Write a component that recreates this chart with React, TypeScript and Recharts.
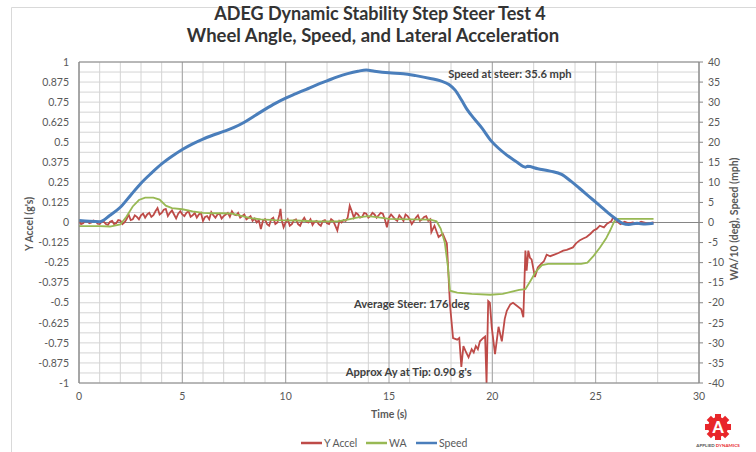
import React from 'react';
import { ComposedChart, Line, XAxis, YAxis, CartesianGrid, ReferenceLine, ReferenceDot } from 'recharts';

const FONT = 'Lato, "Open Sans", sans-serif';
const TEXT = '#595959';

const timeTicks = [0, 5, 10, 15, 20, 25, 30];
const accelTicks = [1, 0.875, 0.75, 0.625, 0.5, 0.375, 0.25, 0.125, 0, -0.125, -0.25, -0.375, -0.5, -0.625, -0.75, -0.875, -1];
const speedTicks = [40, 35, 30, 25, 20, 15, 10, 5, 0, -5, -10, -15, -20, -25, -30, -35, -40];

// [time s, lateral accel g]
const yAccel: [number, number][] = [
  [0, 0.005], [0.1, -0.01], [0.2, -0.005], [0.3, 0.01], [0.4, 0.01], [0.5, -0.005], [0.6, 0], [0.7, 0.012],
  [0.8, 0.008], [0.9, -0.008], [1, -0.01], [1.1, 0.005], [1.2, 0.005], [1.3, -0.01], [1.4, -0.015], [1.5, 0.005],
  [1.6, 0.01], [1.7, -0.01], [1.8, -0.005], [1.9, 0.015], [2, 0.012], [2.1, -0.01], [2.2, 0], [2.3, 0.02],
  [2.4, 0.05], [2.5, 0.015], [2.6, 0.02], [2.7, 0.045], [2.8, 0.035], [2.9, 0.02], [3, 0.045], [3.1, 0.055],
  [3.2, 0.03], [3.3, 0.05], [3.4, 0.06], [3.5, 0.035], [3.6, 0.045], [3.7, 0.07], [3.8, 0.09], [3.9, 0.05],
  [4, 0.06], [4.1, 0.08], [4.2, 0.085], [4.3, 0.04], [4.4, 0.06], [4.5, 0.075], [4.6, 0.05], [4.7, 0.025],
  [4.8, 0.055], [4.9, 0.07], [5, 0.05], [5.1, 0.04], [5.2, 0.06], [5.3, 0.07], [5.4, 0.035], [5.5, 0.045],
  [5.6, 0.06], [5.7, 0.03], [5.8, 0.05], [5.9, 0.06], [6, 0.01], [6.1, 0.035], [6.2, 0.04], [6.3, 0.02],
  [6.4, 0.065], [6.5, 0.045], [6.6, 0.03], [6.7, 0.05], [6.8, 0.055], [6.9, 0.025], [7, 0.04], [7.1, 0.05],
  [7.2, 0.06], [7.3, 0.035], [7.4, 0.07], [7.5, 0.05], [7.6, 0.045], [7.7, 0.06], [7.8, 0.03], [7.9, 0.04],
  [8, 0.05], [8.1, 0.02], [8.2, 0.03], [8.3, 0.04], [8.4, 0.01], [8.5, 0.025], [8.6, 0], [8.7, 0.015],
  [8.8, -0.04], [8.9, 0.01], [9, 0.02], [9.1, -0.01], [9.2, -0.02], [9.3, 0.02], [9.4, 0.03], [9.5, -0.01],
  [9.6, 0], [9.7, 0.05], [9.75, 0.085], [9.8, 0.02], [9.9, -0.03], [10, 0], [10.1, 0.02], [10.2, -0.02],
  [10.3, -0.01], [10.4, 0.015], [10.5, 0.02], [10.6, -0.01], [10.7, -0.02], [10.8, 0.01], [10.9, 0.03], [11, 0.005],
  [11.1, 0], [11.2, 0.02], [11.3, -0.015], [11.4, 0.005], [11.5, 0.01], [11.6, -0.01], [11.7, -0.02], [11.8, 0.01],
  [11.9, 0.015], [12, -0.005], [12.1, -0.01], [12.2, 0.02], [12.3, 0.01], [12.4, -0.02], [12.5, -0.05], [12.6, 0.01],
  [12.7, 0], [12.8, 0.015], [12.9, 0.01], [13, 0.03], [13.1, 0.105], [13.2, 0.07], [13.3, 0.03], [13.4, 0.06],
  [13.5, 0.05], [13.6, 0.03], [13.7, 0.035], [13.8, 0.06], [13.9, 0.055], [14, 0.03], [14.1, 0.04], [14.2, 0.06],
  [14.3, 0.05], [14.4, 0.03], [14.5, 0.045], [14.6, 0.06], [14.7, 0.055], [14.8, 0.02], [14.9, -0.03], [15, 0.03],
  [15.1, 0.05], [15.2, 0.035], [15.3, 0.02], [15.4, 0.01], [15.5, 0.045], [15.6, 0.03], [15.7, 0.01], [15.8, 0.05],
  [15.9, 0.04], [16, 0.02], [16.1, -0.01], [16.2, 0.01], [16.3, 0.03], [16.4, 0.045], [16.5, 0.01], [16.6, 0.02],
  [16.7, 0.035], [16.8, 0.04], [16.9, 0.01], [17, 0.02], [17.05, -0.06], [17.2, -0.02], [17.4, -0.09], [17.6, -0.07],
  [17.8, -0.13], [17.95, -0.51], [18.1, -0.72], [18.3, -0.73], [18.4, -0.72], [18.5, -0.9], [18.6, -0.77], [18.7, -0.8],
  [18.85, -0.84], [19, -0.79], [19.1, -0.81], [19.2, -0.77], [19.3, -0.79], [19.4, -0.74], [19.55, -0.72], [19.65, -0.71],
  [19.72, -1], [19.8, -0.49], [19.88, -0.5], [19.97, -0.65], [20.13, -0.82], [20.3, -0.65], [20.46, -0.74], [20.6, -0.6],
  [20.7, -0.55], [20.87, -0.51], [21, -0.5], [21.2, -0.52], [21.4, -0.54], [21.5, -0.59], [21.6, -0.175], [21.66, -0.3],
  [21.74, -0.175], [21.82, -0.22], [21.9, -0.23], [22.06, -0.34], [22.2, -0.28], [22.35, -0.26], [22.5, -0.24], [22.63, -0.2],
  [22.8, -0.21], [23, -0.2], [23.2, -0.19], [23.43, -0.175], [23.6, -0.17], [23.9, -0.155], [24.05, -0.13], [24.24, -0.11],
  [24.4, -0.1], [24.56, -0.09], [24.75, -0.07], [24.9, -0.05], [25.05, -0.04], [25.2, -0.02], [25.4, -0.03], [25.53, -0.01],
  [25.65, 0], [25.77, 0.01], [25.85, 0.033], [26, 0.01], [26.2, -0.01], [26.4, 0.005], [26.6, -0.005], [26.8, 0],
  [27, -0.01], [27.2, 0.005], [27.5, -0.005], [27.8, 0],
];

// [time s, wheel angle / 10 deg]
const wheelAngle: [number, number][] = [
  [0, -0.9], [1, -0.9], [1.5, -1], [2, -0.5], [2.3, 1.5], [2.6, 4], [2.9, 5.6], [3.2, 6.2], [3.6, 6.2],
  [3.9, 5.7], [4.2, 4.2], [4.5, 3.6], [5, 3.3], [5.5, 2.8], [6, 2.4], [6.5, 2.3], [7, 2.3], [7.4, 2.2],
  [7.8, 1.7], [8.3, 1.1], [8.8, 0.8], [9.5, 0.6], [10.5, 0.5], [11.5, 0.3], [12.5, 0.3], [13, 0.7], [13.5, 1.3],
  [14, 1.6], [14.5, 1.3], [15, 0.9], [16, 0.8], [17, 0.7], [17.3, 0.3], [17.5, -1.5], [17.7, -5], [17.85, -11],
  [17.95, -17], [18.3, -17.5], [19, -17.8], [19.9, -18], [20.5, -17.8], [20.9, -17.3], [21.3, -16.8], [21.6, -16.6],
  [21.85, -14.5], [22.1, -12.3], [22.4, -10.6], [22.7, -10.3], [23.5, -10.3], [24.3, -10.3], [24.6, -10], [24.9, -8.3],
  [25.2, -6.3], [25.5, -4], [25.7, -2], [25.9, 0.3], [26.1, 0.9], [27.8, 0.9],
];

// [time s, speed mph]
const speed: [number, number][] = [
  [0, 0.5], [0.5, 0.3], [1, 0.2], [1.5, 1.8], [2, 3.8], [2.5, 6.8], [3, 9.8], [3.5, 12.3], [4, 14.6], [4.5, 16.5],
  [5, 18.2], [5.5, 19.6], [6, 20.8], [6.5, 21.8], [7, 22.7], [7.5, 23.7], [8, 25], [8.5, 26.6], [9, 28.2], [9.5, 29.7],
  [10, 31], [10.5, 32.1], [11, 33.2], [11.5, 34.3], [12, 35.3], [12.5, 36.3], [13, 37.1], [13.5, 37.7], [13.9, 38],
  [14.3, 37.7], [15, 37.3], [15.7, 37.1], [16.3, 36.6], [17, 35.9], [17.5, 35.3], [17.9, 34.4], [18.2, 33], [18.5, 30.6],
  [18.8, 28], [19.1, 26], [19.5, 23.5], [19.9, 20.6], [20.3, 18.5], [20.7, 16.8], [21.2, 15], [21.6, 13.8], [21.7, 14],
  [22.2, 13.4], [22.8, 12.8], [23.35, 12], [23.8, 10.3], [24.2, 8.6], [24.7, 6.4], [25.2, 4.2], [25.6, 2.4], [26, 0.8],
  [26.3, -0.2], [26.6, -0.5], [27, -0.2], [27.4, -0.4], [27.8, -0.2],
];

const toRows = (pts: [number, number][]) => pts.map(([t, v]) => ({ t, v }));

// gridline positions
const minorTime = Array.from({ length: 31 }, (_, i) => i);
const majorTime = timeTicks;
const gridAccel = Array.from({ length: 33 }, (_, i) => -1 + i * 0.0625);

const legendItems = [
  { label: 'Y Accel', color: '#BE4B48', x: 301 },
  { label: 'WA', color: '#98B954', x: 366 },
  { label: 'Speed', color: '#4A7EBB', x: 416 },
];

function Overlay() {
  const teeth = [0, 45, 90, 135, 180, 225, 270, 315];
  return (
    <svg width={756} height={452} style={{ position: 'absolute', left: 0, top: 0, pointerEvents: 'none' }}>
      <line x1={11.5} y1={7.5} x2={756} y2={7.5} stroke="#d9d9d9" />
      <line x1={11.5} y1={7.5} x2={11.5} y2={452} stroke="#d9d9d9" />
      <text x={380} y={20} textAnchor="middle" fontFamily={FONT} fontWeight={700} fontSize={18} fill="#333">
        ADEG Dynamic Stability Step Steer Test 4
      </text>
      <text x={373} y={42} textAnchor="middle" fontFamily={FONT} fontWeight={700} fontSize={18.5} fill="#333">
        Wheel Angle, Speed, and Lateral Acceleration
      </text>
      <text transform="translate(33,224) rotate(-90)" textAnchor="middle" fontFamily={FONT} fontWeight={700} fontSize={10.5} fill={TEXT}>
        Y Accel (g's)
      </text>
      <text transform="translate(738,219) rotate(-90)" textAnchor="middle" fontFamily={FONT} fontWeight={700} fontSize={10.5} fill={TEXT}>
        WA/10 (deg), Speed (mph)
      </text>
      <text x={389} y={418} textAnchor="middle" fontFamily={FONT} fontWeight={700} fontSize={10.5} fill={TEXT}>
        Time (s)
      </text>
      {legendItems.map((it) => (
        <g key={it.label}>
          <line x1={it.x} y1={443} x2={it.x + 21} y2={443} stroke={it.color} strokeWidth={2.5} />
          <text x={it.x + 23} y={447} fontFamily={FONT} fontSize={10.5} fill={TEXT}>
            {it.label}
          </text>
        </g>
      ))}
      <g transform="translate(718,427)">
        {teeth.map((a) => (
          <rect key={a} x={-3} y={-13} width={6} height={6} fill="#E8262A" transform={`rotate(${a})`} />
        ))}
        <circle r={10} fill="#E8262A" />
        <text y={6} textAnchor="middle" fontFamily={FONT} fontWeight={900} fontSize={16} fill="#fff">A</text>
      </g>
      <text x={718} y={447} textAnchor="middle" fontFamily={FONT} fontWeight={700} fontSize={4.5} fill="#555">
        APPLIED <tspan fill="#E8262A">DYNAMICS</tspan>
      </text>
    </svg>
  );
}

const tickStyle = { fontFamily: FONT, fontSize: 10.5, fill: TEXT };
const noteLabel = (value: string) => ({
  value,
  position: 'center' as const,
  fontFamily: FONT,
  fontWeight: 700,
  fontSize: 11.2,
  fill: '#404040',
});

export default function App() {
  return (
    <div style={{ position: 'absolute', left: 0, top: 0, width: 756, height: 452, background: '#fff' }}>
      <ComposedChart width={756} height={452} margin={{ top: 62, right: 0, bottom: 39, left: 0 }}>
        <CartesianGrid yAxisId="left" horizontalValues={gridAccel} verticalValues={minorTime} stroke="#d4d4d4" strokeWidth={1} />
        <CartesianGrid yAxisId="left" horizontal={false} verticalValues={majorTime} stroke="#a6a6a6" strokeWidth={1} />
        <XAxis
          dataKey="t"
          type="number"
          domain={[0, 30]}
          ticks={timeTicks}
          allowDataOverflow
          height={30}
          tick={tickStyle}
          tickLine={false}
          tickSize={4}
          tickMargin={6}
          axisLine={{ stroke: '#868686' }}
        />
        <YAxis
          yAxisId="left"
          orientation="left"
          type="number"
          domain={[-1, 1]}
          ticks={accelTicks}
          allowDataOverflow
          width={79}
          tick={tickStyle}
          tickLine={false}
          tickSize={6}
          tickMargin={4}
          axisLine={{ stroke: '#868686' }}
          interval={0}
        />
        <YAxis
          yAxisId="right"
          orientation="right"
          type="number"
          domain={[-40, 40]}
          ticks={speedTicks}
          allowDataOverflow
          width={57}
          tick={tickStyle}
          tickLine={{ stroke: '#868686' }}
          tickSize={4}
          tickMargin={5}
          axisLine={{ stroke: '#868686' }}
          interval={0}
        />
        <ReferenceLine yAxisId="left" y={0} stroke="#868686" />
        <ReferenceLine yAxisId="left" y={1} stroke="#868686" />
        <Line data={toRows(yAccel)} dataKey="v" yAxisId="left" type="linear" stroke="#BE4B48" strokeWidth={1.8} dot={false} isAnimationActive={false} />
        <Line data={toRows(wheelAngle)} dataKey="v" yAxisId="right" type="linear" stroke="#98B954" strokeWidth={1.8} dot={false} isAnimationActive={false} />
        <Line data={toRows(speed)} dataKey="v" yAxisId="right" type="monotone" stroke="#4A7EBB" strokeWidth={3} dot={false} isAnimationActive={false} />
        <ReferenceDot yAxisId="left" x={20.85} y={0.925} r={0} fill="none" stroke="none" ifOverflow="visible" label={noteLabel('Speed at steer: 35.6 mph')} />
        <ReferenceDot yAxisId="left" x={16.1} y={-0.51} r={0} fill="none" stroke="none" ifOverflow="visible" label={noteLabel('Average Steer: 176 deg')} />
        <ReferenceDot yAxisId="left" x={15.95} y={-0.93} r={0} fill="none" stroke="none" ifOverflow="visible" label={noteLabel("Approx Ay at Tip: 0.90 g's")} />
      </ComposedChart>
      <Overlay />
    </div>
  );
}
